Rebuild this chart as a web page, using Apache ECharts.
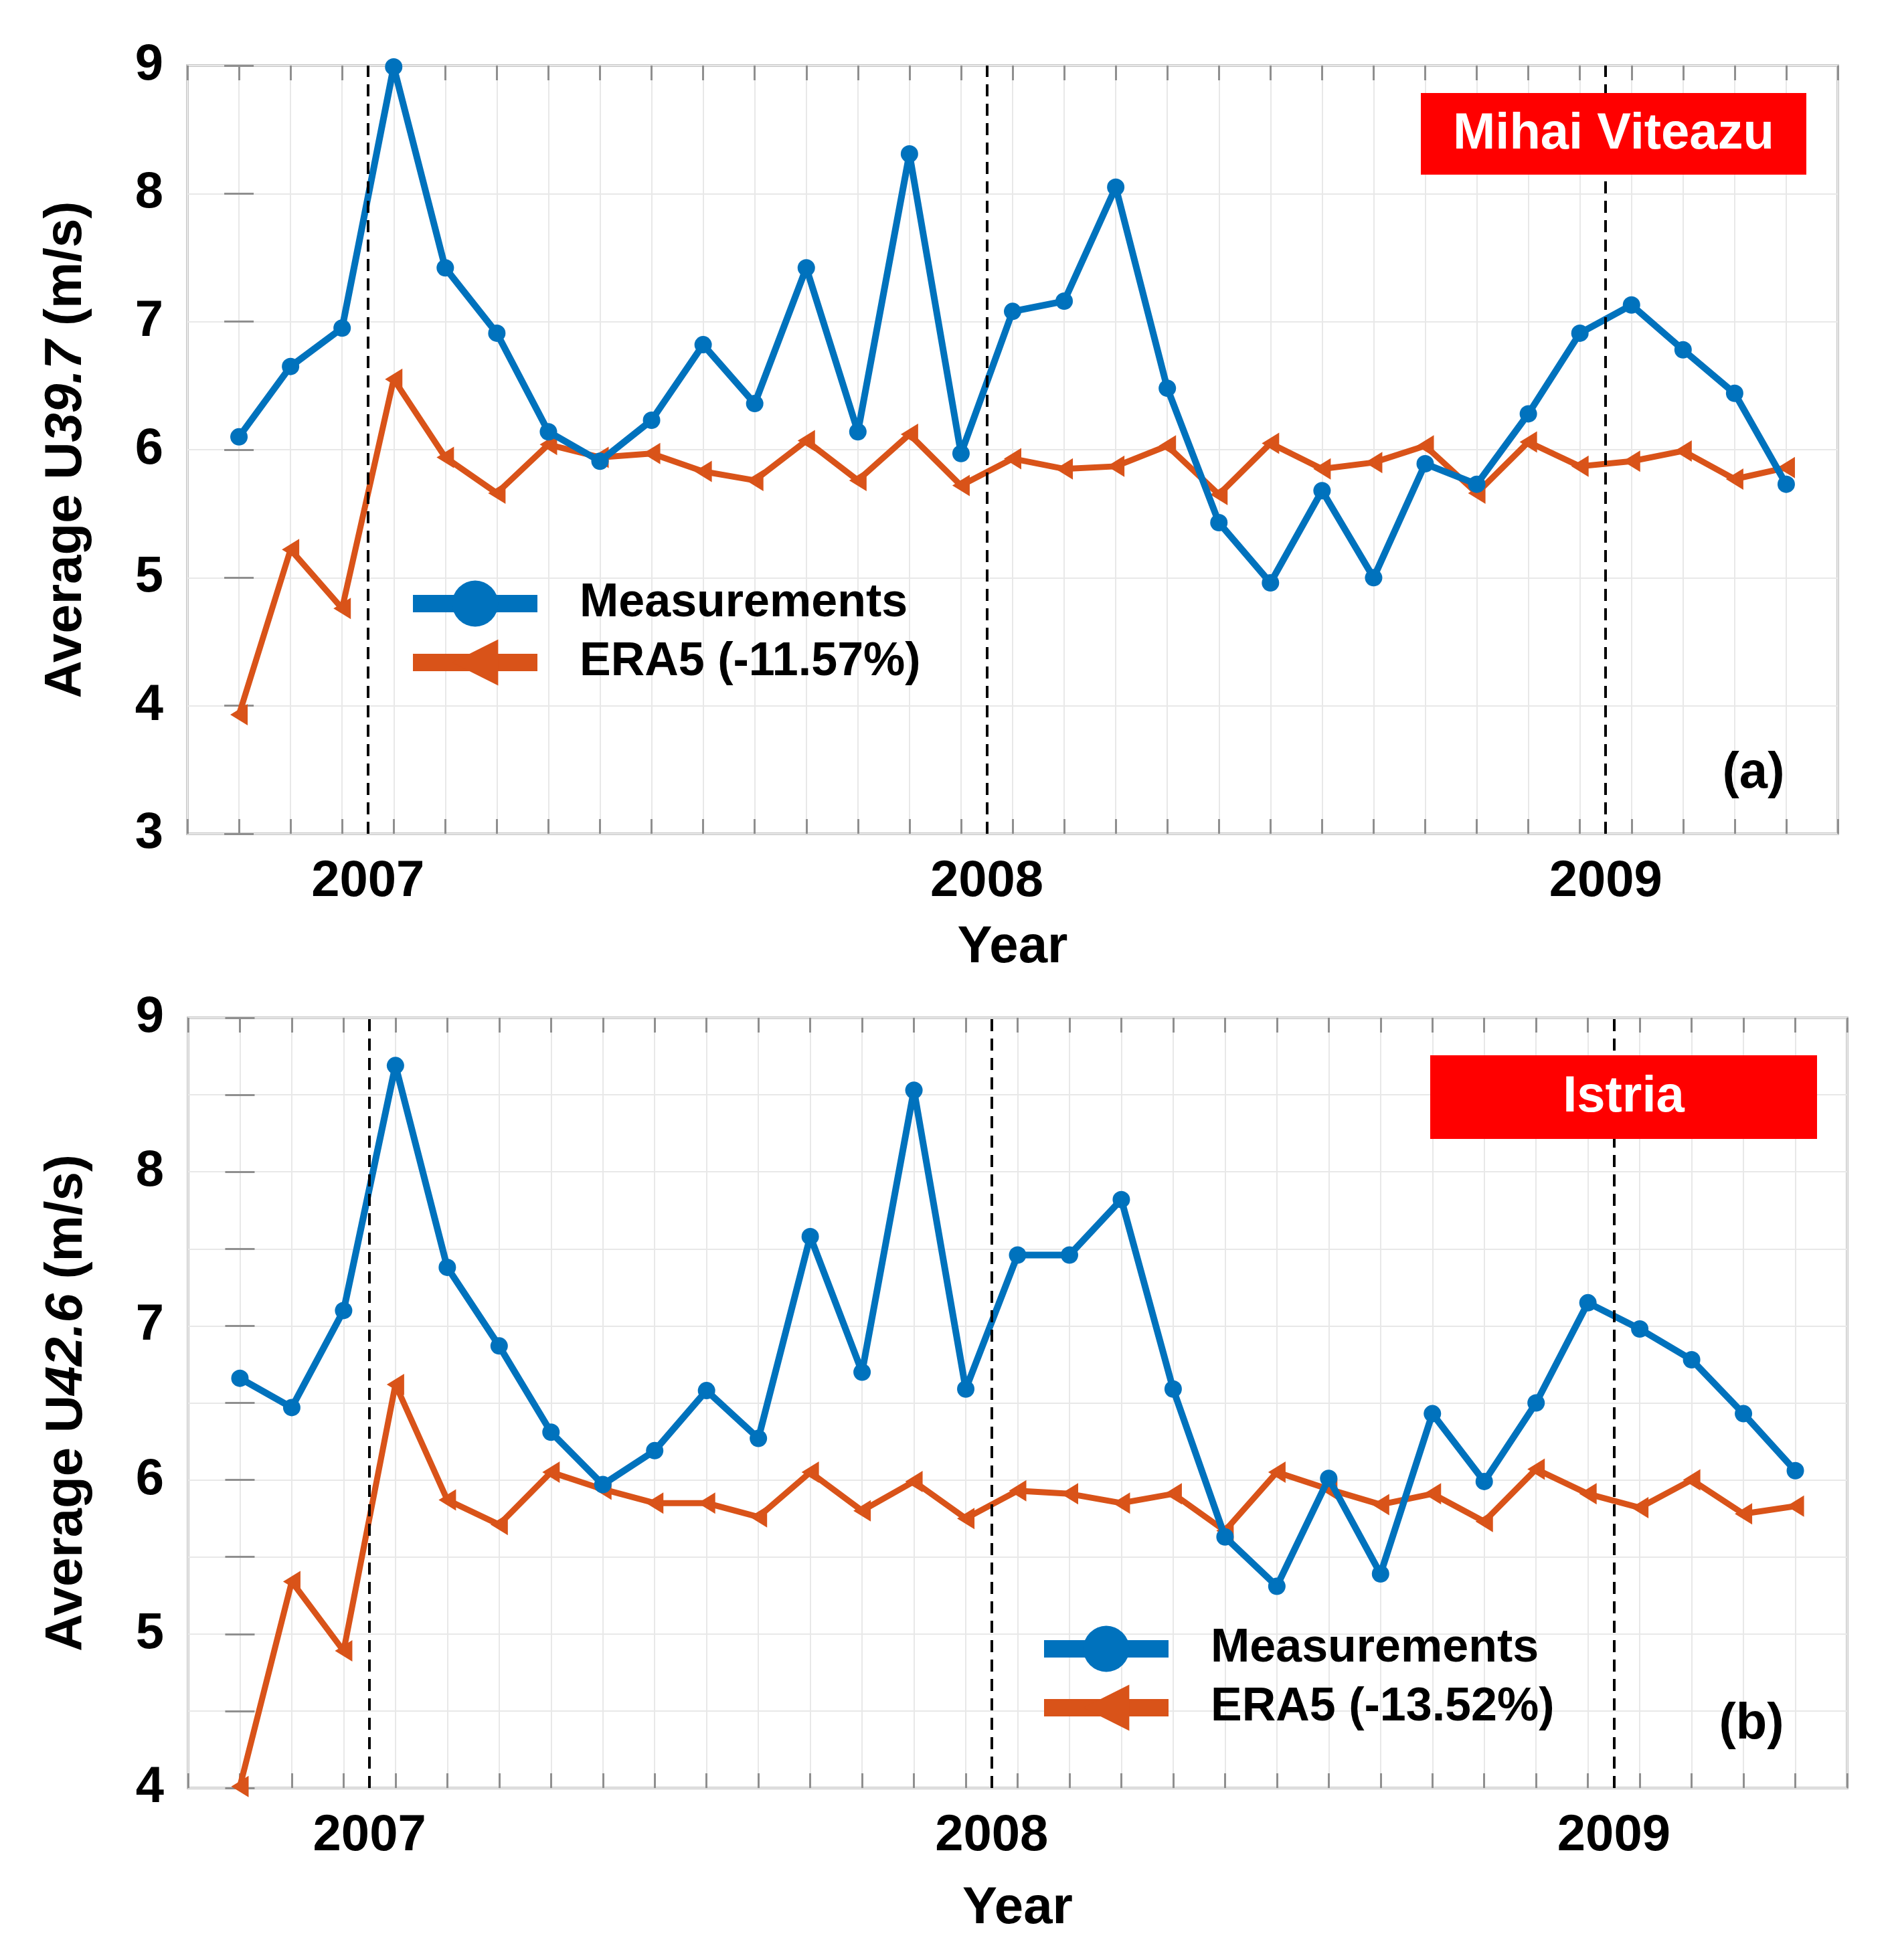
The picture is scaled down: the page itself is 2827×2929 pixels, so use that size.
<!DOCTYPE html>
<html><head><meta charset="utf-8">
<script src="https://cdn.jsdelivr.net/npm/echarts@6/dist/echarts.min.js"></script>
<style>html,body{margin:0;padding:0;background:#fff}#c{width:2827px;height:2929px}</style>
</head><body><div id="c"></div>
<script>
// Monthly means, Oct 2006 .. Apr 2009 (x position = month index)
const monthLabels = ['2006-10','2006-11','2006-12',
  '2007-01','2007-02','2007-03','2007-04','2007-05','2007-06','2007-07','2007-08','2007-09','2007-10','2007-11','2007-12',
  '2008-01','2008-02','2008-03','2008-04','2008-05','2008-06','2008-07','2008-08','2008-09','2008-10','2008-11','2008-12',
  '2009-01','2009-02','2009-03','2009-04'];
const yearLabels = ['2007','2008','2009'];
const yearBoundary = [2.5, 14.5, 26.5]; // between Dec and Jan, month-index units

// (a) Mihai Viteazu
const measA = [6.10, 6.65, 6.95, 8.99, 7.42, 6.91, 6.14, 5.91, 6.23, 6.82, 6.36, 7.42, 6.14, 8.31, 5.97, 7.08, 7.16, 8.05, 6.48, 5.43, 4.96, 5.68, 5.00, 5.89, 5.73, 6.28, 6.91, 7.13, 6.78, 6.44, 5.73];
const era5A = [3.93, 5.22, 4.76, 6.55, 5.94, 5.66, 6.04, 5.94, 5.97, 5.83, 5.76, 6.07, 5.76, 6.12, 5.72, 5.93, 5.85, 5.87, 6.03, 5.65, 6.05, 5.85, 5.90, 6.03, 5.66, 6.06, 5.87, 5.91, 5.99, 5.77, 5.86];
// (b) Istria
const measB = [6.66, 6.47, 7.10, 8.69, 7.38, 6.87, 6.31, 5.97, 6.19, 6.58, 6.27, 7.58, 6.70, 8.53, 6.59, 7.46, 7.46, 7.82, 6.59, 5.63, 5.31, 6.01, 5.39, 6.43, 5.99, 6.50, 7.15, 6.98, 6.78, 6.43, 6.06];
const era5B = [4.01, 5.34, 4.89, 6.62, 5.87, 5.71, 6.05, 5.94, 5.85, 5.85, 5.76, 6.05, 5.80, 5.99, 5.75, 5.93, 5.91, 5.85, 5.91, 5.67, 6.05, 5.94, 5.84, 5.91, 5.73, 6.07, 5.91, 5.82, 6.00, 5.78, 5.83];

const nameMeas = 'Measurements';
const nameEraA = 'ERA5 (-11.57%)';
const nameEraB = 'ERA5 (-13.52%)';
const yTitleA = ['Average U', '39.7', ' (m/s)'];
const yTitleB = ['Average U', '42.6', ' (m/s)'];
const yTicksA = [3, 4, 5, 6, 7, 8, 9];
const yTicksB = [4, 5, 6, 7, 8, 9];

const FF = '"Liberation Sans", Arial, Helvetica, sans-serif';
const BLUE = '#0072BD', ORANGE = '#D95319';
const TRI = 'path://M0,50 L100,0 L100,100 Z';

const toPairs = arr => arr.map((v, i) => [i, v]);
const xMin = -1, xMax = monthLabels.length;

function xAxes(gi, nameGap) {
  return [
    { gridIndex: gi, type: 'value', min: xMin, max: xMax, interval: 1, position: 'bottom',
      axisLine: { show: false },
      axisTick: { show: true, inside: true, length: 22, lineStyle: { color: '#8f8f8f', width: 3 } },
      splitLine: { show: true, lineStyle: { color: '#e8e8e8', width: 2 } },
      axisLabel: { show: true, customValues: yearBoundary, margin: 34,
        formatter: v => { const k = yearBoundary.indexOf(v); return k >= 0 ? yearLabels[k] : ''; },
        fontSize: 76, fontWeight: 'bold', color: '#000', fontFamily: FF },
      name: 'Year', nameLocation: 'middle', nameGap: nameGap,
      nameTextStyle: { fontSize: 78, fontWeight: 'bold', color: '#000', fontFamily: FF } },
    { gridIndex: gi, type: 'value', min: xMin, max: xMax, interval: 1, position: 'top',
      axisLine: { show: false }, axisLabel: { show: false }, splitLine: { show: false },
      axisTick: { show: true, inside: true, length: 22, lineStyle: { color: '#8f8f8f', width: 3 } } }
  ];
}
function yAxes(gi, min, interval, ticks, title) {
  return [
    { gridIndex: gi, type: 'value', min: min, max: 9, interval: interval, position: 'left',
      axisLine: { show: false },
      axisTick: { show: true, inside: true, length: 22, lineStyle: { color: '#8f8f8f', width: 3 } },
      splitLine: { show: true, lineStyle: { color: '#e8e8e8', width: 2 } },
      axisLabel: { show: true, customValues: ticks, margin: 36, fontSize: 76, fontWeight: 'bold', color: '#000', fontFamily: FF },
      name: '{n|' + title[0] + '}{i|' + title[1] + '}{n|' + title[2] + '}',
      nameLocation: 'middle', nameRotate: 90, nameGap: 142,
      nameTextStyle: { fontSize: 78, fontWeight: 'bold', color: '#000', fontFamily: FF,
        rich: { n: { fontSize: 78, fontWeight: 'bold', color: '#000', fontFamily: FF },
                i: { fontSize: 78, fontWeight: 'bold', fontStyle: 'italic', color: '#000', fontFamily: FF } } } },
    { gridIndex: gi, type: 'value', min: min, max: 9, interval: interval, position: 'right',
      axisLine: { show: false }, axisLabel: { show: false }, splitLine: { show: false },
      axisTick: { show: true, inside: true, length: 22, lineStyle: { color: '#8f8f8f', width: 3 } } }
  ];
}
function seriesFor(gi, meas, era, eraName) {
  const xi = gi * 2, yi = gi * 2;
  return [
    { type: 'line', name: nameMeas, xAxisIndex: xi, yAxisIndex: yi, data: toPairs(meas),
      symbol: 'circle', symbolSize: 26, z: 4,
      lineStyle: { color: BLUE, width: 10 }, itemStyle: { color: BLUE } },
    { type: 'line', name: eraName, xAxisIndex: xi, yAxisIndex: yi, data: toPairs(era),
      symbol: TRI, symbolSize: [26, 32], z: 3,
      lineStyle: { color: ORANGE, width: 9 }, itemStyle: { color: ORANGE },
      markLine: { silent: true, symbol: ['none', 'none'], label: { show: false },
        lineStyle: { type: [18, 11], color: '#000', width: 4 },
        data: yearBoundary.map(b => ({ xAxis: b })) } }
  ];
}
function legendFor(left, top, eraName) {
  return { orient: 'vertical', left: left, top: top, itemWidth: 186, itemHeight: 86, itemGap: 2,
    data: [nameMeas, eraName], selectedMode: false,
    lineStyle: { width: 26 },
    textStyle: { fontSize: 70, fontWeight: 'bold', color: '#000', fontFamily: FF, lineHeight: 86, padding: [0, 0, 0, 58] } };
}

const chart = echarts.init(document.getElementById('c'), null, { renderer: 'canvas' });
chart.setOption({
  backgroundColor: '#fff',
  animation: false,
  grid: [
    { left: 280, top: 98, width: 2466, height: 1148, show: true, borderColor: '#c6c6c6', borderWidth: 4 },
    { left: 281, top: 1521, width: 2479, height: 1151, show: true, borderColor: '#c6c6c6', borderWidth: 4 }
  ],
  xAxis: [].concat(xAxes(0, 131), xAxes(1, 141)),
  yAxis: [].concat(yAxes(0, 3, 1, yTicksA, yTitleA), yAxes(1, 4, 0.5, yTicksB, yTitleB)),
  legend: [legendFor(599, 854, nameEraA), legendFor(1542, 2416, nameEraB)],
  series: [].concat(seriesFor(0, measA, era5A, nameEraA), seriesFor(1, measB, era5B, nameEraB)),
  graphic: [
    { type: 'rect', left: 2123, top: 139, z: 10, shape: { width: 576, height: 122 }, style: { fill: '#FF0000' } },
    { type: 'text', x: 2411, y: 201, z: 11, style: { text: 'Mihai Viteazu', fill: '#fff', fontSize: 76, fontWeight: 'bold', fontFamily: FF, align: 'center', verticalAlign: 'middle' } },
    { type: 'rect', left: 2137, top: 1577, z: 10, shape: { width: 578, height: 125 }, style: { fill: '#FF0000' } },
    { type: 'text', x: 2426, y: 1640, z: 11, style: { text: 'Istria', fill: '#fff', fontSize: 76, fontWeight: 'bold', fontFamily: FF, align: 'center', verticalAlign: 'middle' } },
    { type: 'text', x: 2620, y: 1156, z: 11, style: { text: '(a)', fill: '#000', fontSize: 76, fontWeight: 'bold', fontFamily: FF, align: 'center', verticalAlign: 'middle' } },
    { type: 'text', x: 2617, y: 2577, z: 11, style: { text: '(b)', fill: '#000', fontSize: 76, fontWeight: 'bold', fontFamily: FF, align: 'center', verticalAlign: 'middle' } }
  ]
});
</script></body></html>
